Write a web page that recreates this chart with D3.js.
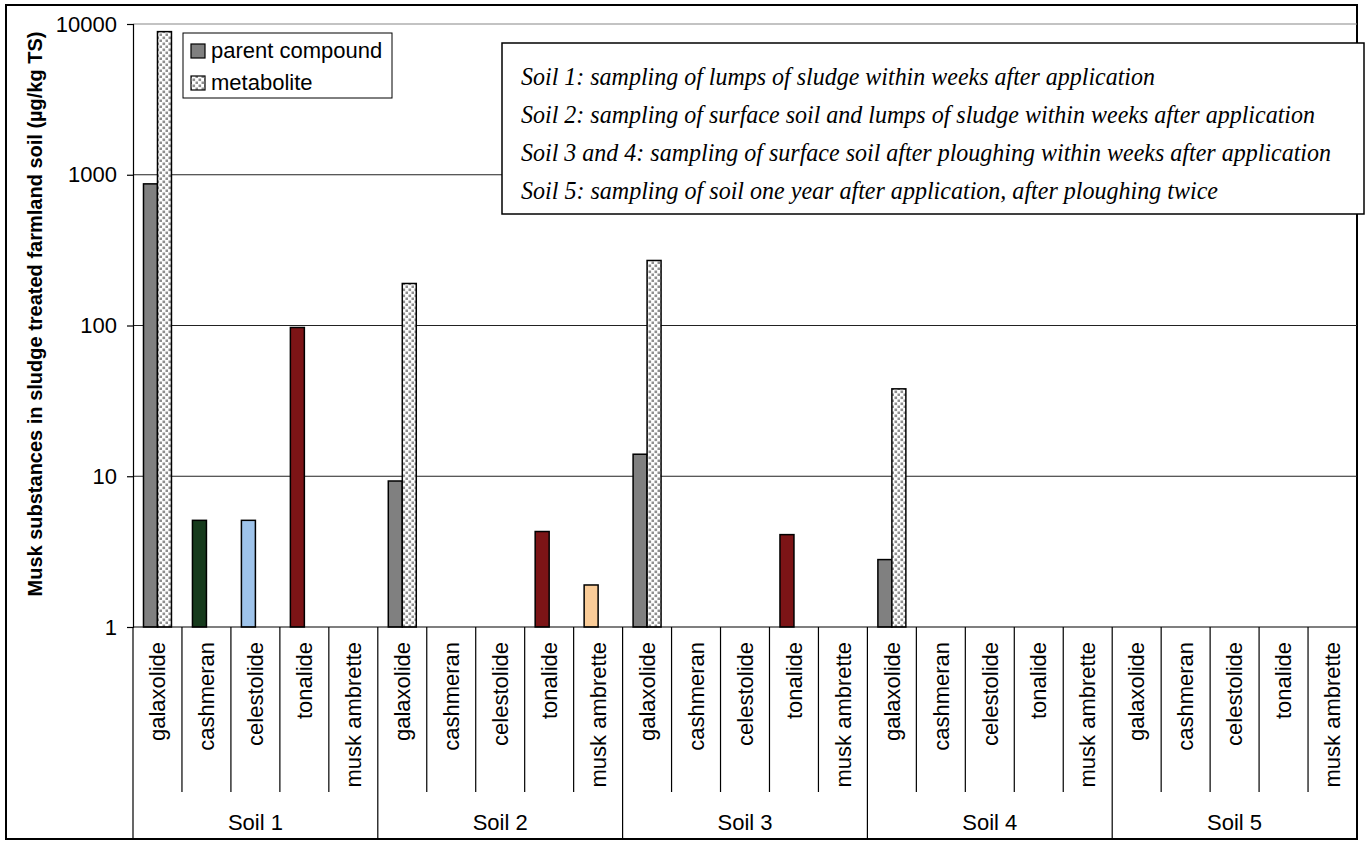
<!DOCTYPE html>
<html>
<head>
<meta charset="utf-8">
<script src="https://cdn.jsdelivr.net/npm/d3@7"></script>
<style>
    body { margin: 0; background: #fff; }
    svg { display: block; }
    .axis-text { font-family: "Liberation Sans", Arial, sans-serif; font-size: 22px; fill: #000; }
    .note { font-family: "Liberation Serif", "Times New Roman", serif; font-style: italic; font-size: 25px; fill: #000; }
</style>
</head>
<body>
<div id="chart"></div>
<script>
// soils (outer category level) and substances (inner level)
const soils = ["Soil 1", "Soil 2", "Soil 3", "Soil 4", "Soil 5"];
const substances = ["galaxolide", "cashmeran", "celestolide", "tonalide", "musk ambrette"];

// parent compound, one row per soil, one column per substance (null = not detected)
const parentValues = [
    [870, 5.1, 5.1, 97, null],
    [9.3, null, null, 4.3, 1.9],
    [14, null, null, 4.1, null],
    [2.8, null, null, null, null],
    [null, null, null, null, null]
];

// galaxolide metabolite, one per soil
const metaboliteValues = [8900, 190, 270, 38, null];

const yTicks = [1, 10, 100, 1000, 10000];

const substanceColors = ["#808080", "#163a1c", "#9ec3ea", "#7c1416", "#facc98"];

const notes = [
    "Soil 1: sampling of lumps of sludge within weeks after application",
    "Soil 2: sampling of surface soil and lumps of sludge within weeks after application",
    "Soil 3 and 4: sampling of surface soil after ploughing within weeks after application",
    "Soil 5: sampling of soil one year after application, after ploughing twice"
];
const noteWidths = [634, 794, 810, 697];

const yTitle = "Musk substances in sludge treated farmland soil (\u00b5g/kg TS)";

// layout
const W = 1366, H = 842;
const plot = {left: 133, right: 1357, top: 24, bottom: 627};

const svg = d3.select("#chart").append("svg")
    .attr("width", W)
    .attr("height", H);

// dotted fill for the metabolite
let defs = svg.append("defs");
let pat = defs.append("pattern")
    .attr("id", "dots")
    .attr("patternUnits", "userSpaceOnUse")
    .attr("width", 6)
    .attr("height", 6);
pat.append("rect").attr("width", 6).attr("height", 6).attr("fill", "#fff");
pat.append("rect").attr("x", 0.5).attr("y", 0.5).attr("width", 2.6).attr("height", 2.6).attr("fill", "#8f8f8f");
pat.append("rect").attr("x", 3.5).attr("y", 3.5).attr("width", 2.6).attr("height", 2.6).attr("fill", "#8f8f8f");

// outer chart border
svg.append("rect")
    .attr("x", 6).attr("y", 5)
    .attr("width", 1351).attr("height", 834)
    .attr("fill", "#fff")
    .attr("stroke", "#000")
    .attr("stroke-width", 2);

// flat list of categories (soil x substance)
let cats = [];
soils.forEach((s, si) => substances.forEach((sub, ci) => cats.push({soil: si, sub: ci, key: si + "-" + ci})));

let x = d3.scaleBand()
    .domain(cats.map(d => d.key))
    .range([plot.left, plot.right])
    .padding(0);

let xInner = d3.scaleBand()
    .domain(["parent", "metabolite"])
    .range([0, x.bandwidth()])
    .paddingInner(0)
    .paddingOuter(0.75);

let y = d3.scaleLog()
    .domain([1, 10000])
    .range([plot.bottom, plot.top]);

// gridlines
svg.append("g")
    .selectAll("line")
    .data(yTicks.slice(1))
    .enter().append("line")
    .attr("x1", plot.left).attr("x2", plot.right)
    .attr("y1", d => y(d)).attr("y2", d => y(d))
    .attr("stroke", d => d === 10000 ? "#888" : "#222")
    .attr("stroke-width", 1.2);

// y axis
let yAxis = d3.axisLeft(y)
    .tickValues(yTicks)
    .tickFormat(d3.format("d"))
    .tickSize(6)
    .tickPadding(10);
let yg = svg.append("g")
    .attr("transform", "translate(" + plot.left + ",0)")
    .call(yAxis)
    .attr("font-size", null)
    .attr("font-family", null);
yg.select(".domain").attr("stroke", "#000").attr("stroke-width", 1.2);
yg.selectAll(".tick line").attr("stroke", "#000").attr("stroke-width", 1.2);
yg.selectAll(".tick text").attr("class", "axis-text");

// y title
svg.append("text")
    .attr("transform", "translate(42,314) rotate(-90)")
    .attr("text-anchor", "middle")
    .attr("font-family", "'Liberation Sans', Arial, sans-serif")
    .attr("font-weight", "bold")
    .attr("font-size", 20)
    .text(yTitle);

// bars - parent compound
let parentData = [];
cats.forEach(c => {
    let v = parentValues[c.soil][c.sub];
    if (v !== null) parentData.push({cat: c, value: v});
});
svg.append("g")
    .selectAll("rect")
    .data(parentData)
    .enter().append("rect")
    .attr("x", d => x(d.cat.key) + xInner("parent"))
    .attr("width", xInner.bandwidth())
    .attr("y", d => y(d.value))
    .attr("height", d => y(1) - y(d.value))
    .attr("fill", d => substanceColors[d.cat.sub])
    .attr("stroke", "#000")
    .attr("stroke-width", 1.5);

// bars - metabolite (galaxolide only)
let metaData = [];
metaboliteValues.forEach((v, si) => {
    if (v !== null) metaData.push({cat: cats[si * substances.length], value: v});
});
svg.append("g")
    .selectAll("rect")
    .data(metaData)
    .enter().append("rect")
    .attr("x", d => x(d.cat.key) + xInner("metabolite"))
    .attr("width", xInner.bandwidth())
    .attr("y", d => y(d.value))
    .attr("height", d => y(1) - y(d.value))
    .attr("fill", "url(#dots)")
    .attr("stroke", "#000")
    .attr("stroke-width", 1.5);

// category axis line
svg.append("line")
    .attr("x1", plot.left).attr("x2", plot.right)
    .attr("y1", plot.bottom).attr("y2", plot.bottom)
    .attr("stroke", "#000").attr("stroke-width", 1.2);

// separators between substances (short) and soils (long)
let seps = d3.range(cats.length + 1);
svg.append("g")
    .selectAll("line")
    .data(seps)
    .enter().append("line")
    .attr("x1", i => plot.left + i * x.step())
    .attr("x2", i => plot.left + i * x.step())
    .attr("y1", plot.bottom)
    .attr("y2", i => i % substances.length === 0 ? 838 : 792)
    .attr("stroke", "#000")
    .attr("stroke-width", 1.2);

// substance labels
svg.append("g")
    .selectAll("text")
    .data(cats)
    .enter().append("text")
    .attr("class", "axis-text")
    .attr("text-anchor", "end")
    .attr("dy", "0.35em")
    .attr("transform", d => "translate(" + (x(d.key) + x.bandwidth() / 2) + ",642) rotate(-90)")
    .text(d => substances[d.sub]);

// soil labels
svg.append("g")
    .selectAll("text")
    .data(soils)
    .enter().append("text")
    .attr("class", "axis-text")
    .attr("text-anchor", "middle")
    .attr("x", (d, i) => x(i + "-0") + x.step() * substances.length / 2)
    .attr("y", 830)
    .text(d => d);

// legend
let legend = svg.append("g");
legend.append("rect")
    .attr("x", 183).attr("y", 33)
    .attr("width", 209).attr("height", 65)
    .attr("fill", "#fff")
    .attr("stroke", "#000")
    .attr("stroke-width", 1);
let legendItems = [
    {label: "parent compound", fill: substanceColors[0]},
    {label: "metabolite", fill: "url(#dots)"}
];
legendItems.forEach((d, i) => {
    legend.append("rect")
        .attr("x", 191).attr("y", 44 + i * 32)
        .attr("width", 14).attr("height", 14)
        .attr("fill", d.fill)
        .attr("stroke", "#000")
        .attr("stroke-width", 1.2);
    legend.append("text")
        .attr("class", "axis-text")
        .attr("x", 211).attr("y", 58 + i * 32)
        .style("font-size", "22px")
        .text(d.label);
});

// note box
svg.append("rect")
    .attr("x", 502).attr("y", 43)
    .attr("width", 862).attr("height", 171)
    .attr("fill", "#fff")
    .attr("stroke", "#000")
    .attr("stroke-width", 1.5);
svg.append("g")
    .selectAll("text")
    .data(notes)
    .enter().append("text")
    .attr("class", "note")
    .attr("x", 521)
    .attr("y", (d, i) => 85 + i * 38)
    .attr("textLength", (d, i) => noteWidths[i])
    .attr("lengthAdjust", "spacingAndGlyphs")
    .text(d => d);
</script>
</body>
</html>
